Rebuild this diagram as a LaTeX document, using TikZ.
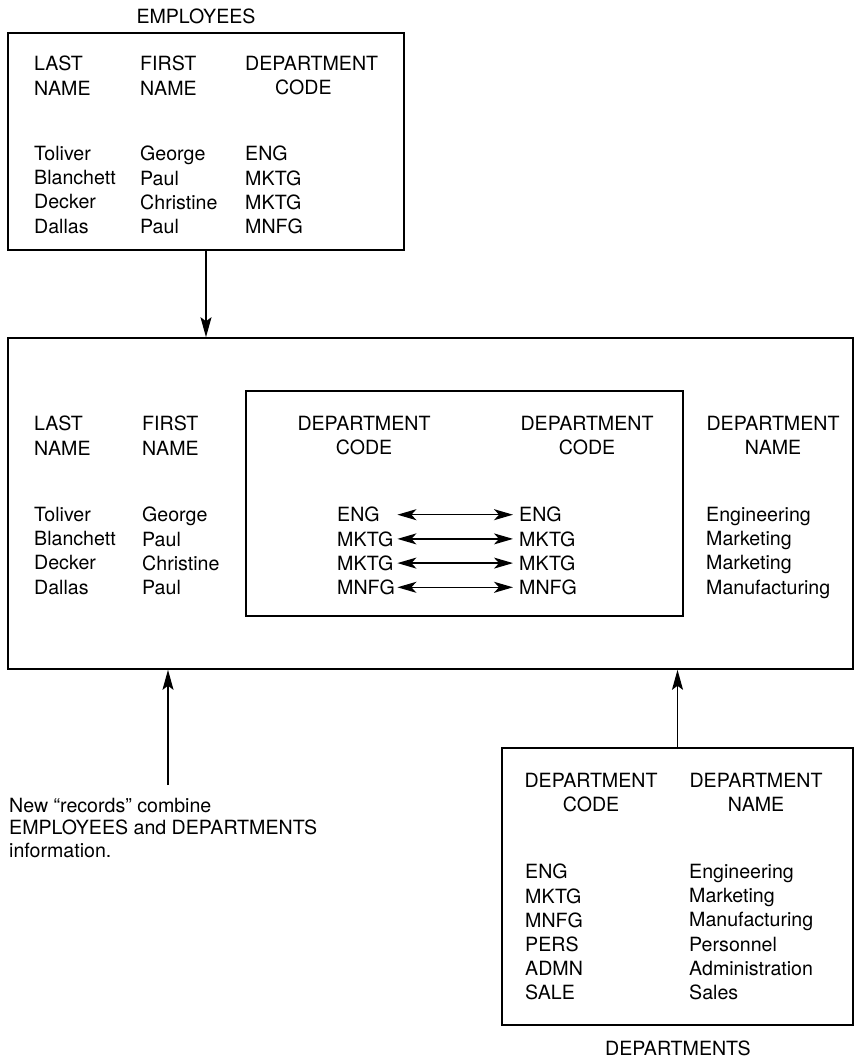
\documentclass[tikz,border=0pt]{standalone}
\usepackage{fontspec}
\setmainfont{TeX Gyre Heros}
\usetikzlibrary{arrows.meta}
\begin{document}
\begin{tikzpicture}[x=1pt,y=-1pt,
  every node/.style={inner sep=0pt,font=\fontsize{19.6}{24.2}\selectfont},
  table/.style={draw,line width=1.6pt,rectangle},
  txt/.style={anchor=north west,align=left},
  hdr/.style={anchor=north,align=center},
  lcode/.style={anchor=north west,text width=60pt,align=left},
  rcode/.style={anchor=north west},
  link/.style={line width=1.4pt,-{Stealth[length=20pt,width=11pt,inset=4pt]}},
  pair/.style={line width=1.4pt,shorten >=6pt,
    {Stealth[length=19pt,width=11pt,inset=5pt]}-{Stealth[length=19pt,width=11pt,inset=5pt]}}]
\useasboundingbox (0,0) rectangle (860,1064);

% EMPLOYEES table
\node[hdr] (empTitle) at (196,9) {EMPLOYEES};
\node[table,minimum width=396pt,minimum height=217pt] (emp) at (206,141.5) {};
\node[txt] (empLastH) at (34,56) {LAST\\NAME};
\node[txt] (empFirstH) at (140,56) {FIRST\\NAME};
\node[txt] (empCodeH) at (245,56) {DEPARTMENT\\\hspace*{30pt}CODE};
\node[txt] (empLast) at (34,146) {Toliver\\Blanchett\\Decker\\Dallas};
\node[txt] (empFirst) at (140,146) {George\\Paul\\Christine\\Paul};
\node[txt] (empCode) at (245,146) {ENG\\MKTG\\MKTG\\MNFG};

% combined records
\node[table,minimum width=845pt,minimum height=331pt] (joined) at (430.5,503.5) {};
\node[txt] (jLastH) at (34,416) {LAST\\NAME};
\node[txt] (jFirstH) at (142,416) {FIRST\\NAME};
\node[txt] (jLast) at (34,507) {Toliver\\Blanchett\\Decker\\Dallas};
\node[txt] (jFirst) at (142,507) {George\\Paul\\Christine\\Paul};
\node[hdr] (jNameH) at (773,416) {DEPARTMENT\\NAME};
\node[txt] (jName) at (706,507) {Engineering\\Marketing\\Marketing\\Manufacturing};

% matching department codes
\node[table,minimum width=437pt,minimum height=225pt] (match) at (464.5,503.5) {};
\node[hdr] (mLeftH) at (364,416) {DEPARTMENT\\CODE};
\node[hdr] (mRightH) at (587,416) {DEPARTMENT\\CODE};
\node[lcode] (l1) at (337,507) {ENG};
\node[lcode] (l2) at (337,531.2) {MKTG};
\node[lcode] (l3) at (337,555.4) {MKTG};
\node[lcode] (l4) at (337,579.6) {MNFG};
\node[rcode] (r1) at (519,507) {ENG};
\node[rcode] (r2) at (519,531.2) {MKTG};
\node[rcode] (r3) at (519,555.4) {MKTG};
\node[rcode] (r4) at (519,579.6) {MNFG};
\foreach \i in {1,...,4}
  \draw[pair] (l\i.east) -- (r\i.west);

% DEPARTMENTS table
\node[table,minimum width=351pt,minimum height=277pt] (depts) at (677.5,886.5) {};
\node[hdr] (dCodeH) at (591,773) {DEPARTMENT\\CODE};
\node[hdr] (dNameH) at (756,773) {DEPARTMENT\\NAME};
\node[txt] (dCode) at (525,864) {ENG\\MKTG\\MNFG\\PERS\\ADMN\\SALE};
\node[txt] (dName) at (689,864) {Engineering\\Marketing\\Manufacturing\\Personnel\\Administration\\Sales};
\node[hdr] (deptTitle) at (678,1041) {DEPARTMENTS};

% note
\node[txt,font=\fontsize{19.6}{22.5}\selectfont] (note) at (9,798)
  {New “records” combine\\EMPLOYEES and DEPARTMENTS\\information.};
\coordinate (noteTip) at (168,785);

% connectors
\draw[link] (emp.south) -- (joined.north -| emp.south);
\draw[link] (depts.north) -- (joined.south -| depts.north);
\draw[link] (noteTip) -- (joined.south -| noteTip);
\end{tikzpicture}
\end{document}
